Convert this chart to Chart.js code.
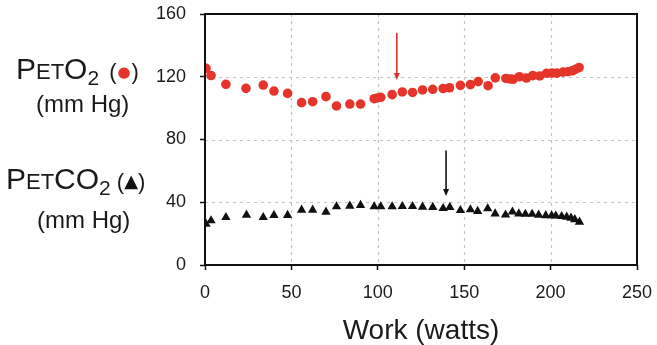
<!DOCTYPE html>
<html>
<head>
<meta charset="utf-8">
<script src="https://cdn.jsdelivr.net/npm/chart.js@4.4.1/dist/chart.umd.min.js"></script>
<style>
  html, body { margin: 0; padding: 0; background: #fff; }
  #wrap { width: 657px; height: 345px; position: relative; }
</style>
</head>
<body>
<div id="wrap"><canvas id="c" width="657" height="345"></canvas></div>
<script>
// End-tidal O2 (circles) against work rate
const workO2 = [0.6, 3.5, 12.1, 23.7, 33.7, 39.9, 47.8, 55.9, 62.3, 70.0, 76.1, 83.8, 90.0, 97.9, 99.8, 101.7,
  108.3, 114.2, 120.1, 125.9, 131.8, 137.8, 141.5, 147.8, 153.6, 158.1, 163.8, 168.0, 174.1, 176.5, 178.3,
  181.9, 186.0, 189.7, 193.7, 197.6, 200.8, 203.6, 207.2, 210.1, 212.5, 214.5, 216.5];
const petO2 = [125.4, 120.8, 115.2, 112.6, 114.7, 110.9, 109.4, 103.5, 104.1, 107.3, 101.4, 102.6, 102.6, 106.0, 106.5, 106.9,
  108.6, 110.3, 110.0, 111.6, 112.0, 112.5, 113.0, 114.5, 115.0, 116.9, 114.3, 119.3, 118.9, 118.6, 118.4,
  120.0, 119.2, 120.7, 120.5, 122.2, 122.4, 122.3, 123.0, 123.2, 123.8, 124.8, 125.9];

// End-tidal CO2 (triangles) against work rate
const workCO2 = [0.6, 3.5, 12.1, 24.0, 33.7, 39.9, 47.8, 55.9, 62.3, 70.0, 76.1, 83.8, 90.0, 97.9, 101.7,
  108.3, 114.2, 120.1, 125.9, 131.8, 137.8, 141.7, 147.8, 153.6, 157.8, 163.6, 167.9, 173.9, 177.9, 181.6,
  185.4, 189.3, 193.1, 197.2, 200.6, 203.0, 206.4, 209.3, 211.8, 214.0, 216.7];
const petCO2 = [26.1, 28.3, 30.4, 31.9, 30.4, 31.7, 31.7, 35.1, 35.1, 33.8, 37.2, 37.6, 38.1, 37.2, 37.2,
  37.2, 37.4, 37.4, 37.0, 36.8, 36.1, 36.8, 34.8, 35.3, 34.3, 36.0, 32.7, 32.0, 33.9, 32.7,
  32.4, 32.4, 31.9, 31.6, 31.5, 31.3, 31.0, 30.6, 30.0, 29.0, 27.4];

// Threshold arrows: work rate, start and end pressure
const arrowWork = [111, 139.5];
const arrowFrom = [148, 73];
const arrowTo = [118, 44];
const arrowColors = ['#d8312a', '#111111'];

const xTicks = [0, 50, 100, 150, 200, 250];
const yTicks = [0, 40, 80, 120, 160];

const RED = '#e5352a';
const FONT = '"Liberation Sans", Arial, sans-serif';

const toPoints = (xs, ys) => xs.map((x, i) => ({ x, y: ys[i] }));

// Draws a run of text pieces with individual sizes / offsets
function drawRich(ctx, x, y, parts) {
  let cx = x;
  for (const p of parts) {
    if (p.gap) { cx += p.gap; continue; }
    ctx.font = (p.size || 22) + 'px ' + (p.family || FONT);
    ctx.fillStyle = p.color || '#1a1a1a';
    ctx.fillText(p.text, cx, y + (p.dy || 0));
    cx += ctx.measureText(p.text).width + (p.after || 0);
  }
}

const decor = {
  id: 'decor',
  beforeDatasetsDraw(chart) {
    // dashed inner grid lines
    const { ctx, chartArea: a, scales: { x, y } } = chart;
    ctx.save();
    ctx.strokeStyle = '#c4c4c4';
    ctx.lineWidth = 1.2;
    ctx.setLineDash([3, 4]);
    xTicks.slice(1, -1).forEach(v => {
      const px = Math.round(x.getPixelForValue(v)) + 0.5;
      ctx.beginPath(); ctx.moveTo(px, a.top); ctx.lineTo(px, a.bottom); ctx.stroke();
    });
    yTicks.slice(1, -1).forEach(v => {
      const py = Math.round(y.getPixelForValue(v)) + 0.5;
      ctx.beginPath(); ctx.moveTo(a.left, py); ctx.lineTo(a.right, py); ctx.stroke();
    });
    ctx.restore();
  },
  afterDatasetsDraw(chart) {
    const { ctx, chartArea: a, scales: { x, y } } = chart;
    ctx.save();
    ctx.setLineDash([]);
    // plot frame
    ctx.strokeStyle = '#111';
    ctx.lineWidth = 2;
    ctx.strokeRect(a.left, a.top, a.right - a.left, a.bottom - a.top);

    // arrows
    arrowWork.forEach((w, i) => {
      const px = x.getPixelForValue(w);
      const y0 = y.getPixelForValue(arrowFrom[i]);
      const y1 = y.getPixelForValue(arrowTo[i]);
      ctx.strokeStyle = arrowColors[i];
      ctx.fillStyle = arrowColors[i];
      ctx.lineWidth = 1.6;
      ctx.beginPath();
      ctx.moveTo(px, y0);
      ctx.lineTo(px, y1 - 5);
      ctx.stroke();
      ctx.beginPath();
      ctx.moveTo(px, y1);
      ctx.lineTo(px - 3, y1 - 7);
      ctx.lineTo(px + 3, y1 - 7);
      ctx.closePath();
      ctx.fill();
    });
    ctx.restore();
  },
  afterDraw(chart) {
    const ctx = chart.ctx;
    ctx.save();
    ctx.textBaseline = 'alphabetic';
    ctx.textAlign = 'left';
    drawRich(ctx, 16, 79, [
      { text: 'P', size: 30 }, { text: 'ET', size: 22 }, { text: 'O', size: 30 },
      { text: '2', size: 21, dy: 6 }, { gap: 10 },
      { text: '(', size: 22 }, { gap: 1 }, { text: '●', size: 15, color: RED, family: '"DejaVu Sans", sans-serif', dy: -2 },
      { gap: 1 }, { text: ')', size: 22 }
    ]);
    drawRich(ctx, 36, 112, [{ text: '(mm Hg)', size: 24 }]);
    drawRich(ctx, 6, 189, [
      { text: 'P', size: 30 }, { text: 'ET', size: 22 }, { text: 'CO', size: 30 },
      { text: '2', size: 21, dy: 6 }, { gap: 6 },
      { text: '(', size: 22 }, { text: '▲', size: 18, color: '#111', family: '"DejaVu Sans", sans-serif', dy: -2 },
      { text: ')', size: 22 }
    ]);
    drawRich(ctx, 37, 228, [{ text: '(mm Hg)', size: 24 }]);
    ctx.restore();
  }
};

// Chart.js grid only supplies the short black tick marks
const gridOpts = {
  color: 'rgba(0,0,0,0)', lineWidth: 1,
  drawTicks: true, tickLength: 5, tickColor: '#111', tickWidth: 1.5, tickBorderDash: []
};

new Chart(document.getElementById('c'), {
  type: 'scatter',
  data: {
    datasets: [
      {
        label: 'PETO2',
        data: toPoints(workO2, petO2),
        pointStyle: 'circle',
        pointRadius: 4.8,
        backgroundColor: RED,
        borderColor: RED,
        borderWidth: 0
      },
      {
        label: 'PETCO2',
        data: toPoints(workCO2, petCO2),
        pointStyle: 'triangle',
        pointRadius: 5.4,
        backgroundColor: '#111',
        borderColor: '#111',
        borderWidth: 0
      }
    ]
  },
  options: {
    responsive: false,
    animation: false,
    devicePixelRatio: 1,
    layout: { padding: { left: 145, top: 14, right: 20, bottom: 0 } },
    plugins: { legend: { display: false }, tooltip: { enabled: false } },
    scales: {
      x: {
        type: 'linear',
        min: 0, max: 250,
        afterFit(s) { s.height = 80; s.paddingLeft = 0; s.paddingRight = 0; },
        afterBuildTicks(s) { s.ticks = xTicks.map(v => ({ value: v })); },
        ticks: { font: { family: FONT, size: 18 }, color: '#1a1a1a', padding: 12, maxRotation: 0 },
        grid: gridOpts,
        border: { display: false },
        title: {
          display: true, text: 'Work (watts)',
          font: { family: FONT, size: 28, lineHeight: 1.0 }, color: '#1a1a1a', padding: { top: 0, bottom: 0 }
        }
      },
      y: {
        type: 'linear',
        min: 0, max: 160,
        afterFit(s) { s.width = 60; s.paddingTop = 0; s.paddingBottom = 0; },
        afterBuildTicks(s) { s.ticks = yTicks.map(v => ({ value: v })); },
        ticks: { font: { family: FONT, size: 18 }, color: '#1a1a1a', padding: 14 },
        grid: gridOpts,
        border: { display: false }
      }
    }
  },
  plugins: [decor]
});
</script>
</body>
</html>
